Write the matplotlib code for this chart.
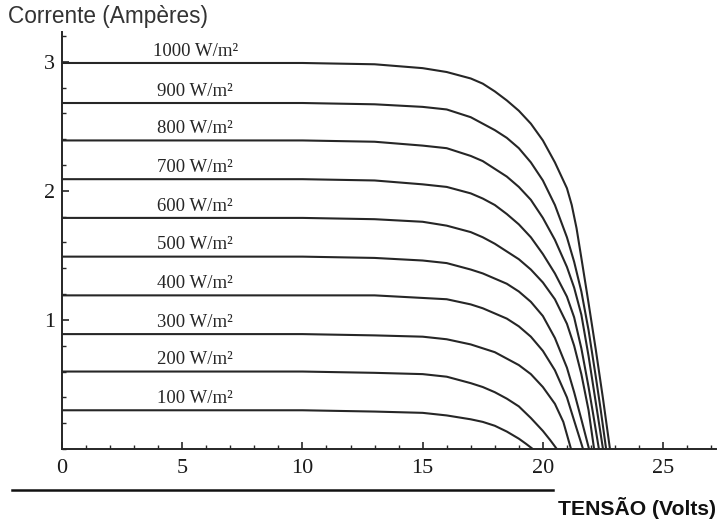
import matplotlib
matplotlib.use('Agg')
import matplotlib.pyplot as plt
from matplotlib.ticker import MultipleLocator
from matplotlib.lines import Line2D

#####################################
# curves (tensao V, corrente A)
labels = ['1000 W/m²', '900 W/m²', '800 W/m²', '700 W/m²', '600 W/m²',
          '500 W/m²', '400 W/m²', '300 W/m²', '200 W/m²', '100 W/m²']

v1000 = [0, 10, 13, 15, 16, 17, 17.5, 18, 18.5, 19, 19.5, 20, 20.5, 21, 21.2, 21.4, 21.6, 21.9, 22.2, 22.5, 22.79]
i1000 = [2.99, 2.99, 2.98, 2.95, 2.92, 2.87, 2.83, 2.77, 2.70, 2.62, 2.52, 2.39, 2.22, 2.02, 1.89, 1.71, 1.48, 1.13, 0.77, 0.39, 0]

v900 = [0, 10, 13, 15, 16, 17, 17.5, 18, 18.5, 19, 19.5, 20, 20.5, 21, 21.3, 21.6, 21.9, 22.2, 22.4, 22.63]
i900 = [2.68, 2.68, 2.67, 2.65, 2.63, 2.57, 2.52, 2.47, 2.41, 2.33, 2.22, 2.08, 1.89, 1.64, 1.45, 1.22, 0.92, 0.56, 0.31, 0]

v800 = [0, 10, 13, 15, 16, 17, 17.5, 18, 18.5, 19, 19.5, 20, 20.5, 21, 21.3, 21.6, 21.9, 22.2, 22.5]
i800 = [2.39, 2.39, 2.38, 2.35, 2.33, 2.27, 2.23, 2.17, 2.11, 2.03, 1.93, 1.79, 1.62, 1.41, 1.25, 1.04, 0.72, 0.36, 0]

v700 = [0, 10, 13, 15, 16, 17, 17.5, 18, 18.5, 19, 19.5, 20, 20.5, 21, 21.3, 21.6, 21.9, 22.1, 22.33]
i700 = [2.09, 2.09, 2.08, 2.05, 2.03, 1.98, 1.94, 1.89, 1.82, 1.74, 1.64, 1.51, 1.36, 1.18, 1.02, 0.78, 0.48, 0.26, 0]

v600 = [0, 10, 13, 15, 16, 17, 17.5, 18, 18.5, 19, 19.5, 20, 20.5, 21, 21.3, 21.6, 21.9, 22.13]
i600 = [1.79, 1.79, 1.78, 1.76, 1.73, 1.68, 1.64, 1.59, 1.53, 1.47, 1.39, 1.29, 1.16, 0.97, 0.80, 0.58, 0.30, 0]

v500 = [0, 10, 13, 15, 16, 17, 17.5, 18, 18.5, 19, 19.5, 20, 20.5, 21, 21.3, 21.6, 21.92]
i500 = [1.49, 1.49, 1.48, 1.46, 1.44, 1.39, 1.36, 1.32, 1.28, 1.22, 1.14, 1.03, 0.86, 0.63, 0.44, 0.23, 0]

v400 = [0, 10, 13, 15, 16, 17, 17.5, 18, 18.5, 19, 19.5, 20, 20.5, 21, 21.3, 21.67]
i400 = [1.19, 1.19, 1.19, 1.17, 1.16, 1.12, 1.09, 1.05, 1.01, 0.95, 0.87, 0.76, 0.61, 0.40, 0.22, 0]

v300 = [0, 10, 13, 15, 16, 17, 17.5, 18, 18.5, 19, 19.5, 20, 20.5, 20.85, 21.17]
i300 = [0.89, 0.89, 0.88, 0.87, 0.85, 0.81, 0.78, 0.75, 0.70, 0.65, 0.58, 0.48, 0.35, 0.21, 0]

v200 = [0, 10, 13, 15, 16, 17, 17.5, 18, 18.5, 19, 19.5, 20, 20.3, 20.58]
i200 = [0.60, 0.60, 0.59, 0.58, 0.56, 0.51, 0.48, 0.44, 0.39, 0.33, 0.24, 0.14, 0.07, 0]

v100 = [0, 10, 13, 15, 16, 17, 17.5, 18, 18.5, 19, 19.3, 19.58]
i100 = [0.30, 0.30, 0.29, 0.28, 0.26, 0.23, 0.21, 0.18, 0.135, 0.08, 0.04, 0]

xticks = [0, 5, 10, 15, 20, 25]
yticks = [1, 2, 3]
#####################################

curves = [(v1000, i1000), (v900, i900), (v800, i800), (v700, i700), (v600, i600),
          (v500, i500), (v400, i400), (v300, i300), (v200, i200), (v100, i100)]

serif = ['Liberation Serif', 'DejaVu Serif']
ink = '#262626'

fig = plt.figure(figsize=(7.18, 5.26), dpi=100)
ax = fig.add_axes([62/718, 1-449/526, (716-62)/718, (449-32)/526])
ax.set_xlim(0, 27.2)
ax.set_ylim(0, 3.23)

for (v, i), lab in zip(curves, labels):
    ax.plot(v, i, color=ink, lw=1.5, solid_joinstyle='round')
    xt = 3.8 if lab.startswith('1000') else 3.95
    ax.text(xt, i[0] + 0.025, lab, family=serif, fontsize=13.5, color=ink,
            ha='left', va='bottom')

#axes look
for s in ['top', 'right']:
    ax.spines[s].set_visible(False)
for s in ['left', 'bottom']:
    ax.spines[s].set_color(ink)
    ax.spines[s].set_linewidth(1.4)

ax.set_xticks(xticks)
ax.set_yticks(yticks)
ax.xaxis.set_minor_locator(MultipleLocator(1))
ax.yaxis.set_minor_locator(MultipleLocator(0.2))
ax.tick_params(which='major', direction='in', length=5, width=1.2, color=ink, pad=7)
ax.tick_params(which='minor', direction='in', length=3, width=1.0, color=ink)
ax.tick_params(axis='y', which='major', pad=5)
for t in ax.get_xticklabels() + ax.get_yticklabels():
    t.set_family(serif)
    t.set_fontsize(16)
    t.set_color('#1a1a1a')

#axis titles
fig.text(8/718, 1-17/526, 'Corrente (Ampères)', family='Liberation Sans',
         fontsize=16.3, color='#333333', ha='left', va='center')
fig.text(716/718, 1-508/526, 'TENSÃO (Volts)', family='Liberation Sans',
         fontsize=15.2, fontweight='bold', color='#111111', ha='right', va='center')

#black rule under the axis
fig.add_artist(Line2D([12/718, 553/718], [1-490/526, 1-490/526], color='#111111', lw=1.8))

fig.savefig('out.png', dpi=100, facecolor='white')
